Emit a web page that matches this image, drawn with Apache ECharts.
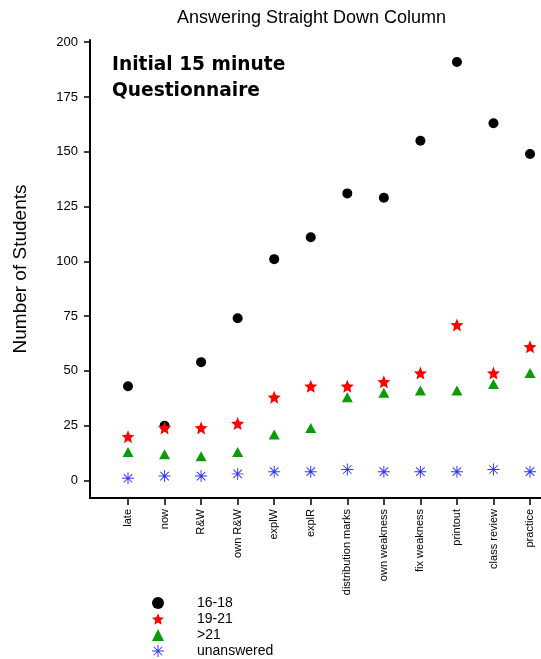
<!DOCTYPE html>
<html><head><meta charset="utf-8">
<script src="https://cdn.jsdelivr.net/npm/echarts@6/dist/echarts.min.js"></script>
<style>html,body{margin:0;padding:0;background:#fff}#c{width:541px;height:659px}</style>
</head><body><div id="c"></div>
<script>
const categories = ['late','now','R&W','own R&W','explW','explR','distribution marks','own weakness','fix weakness','printout','class review','practice'];
const seriesNames = ['16-18','19-21','>21','unanswered'];
const age16to18 = [43,25,54,74,101,111,131,129,155,191,163,149];
const age19to21 = [20,24,24,26,38,43,43,45,49,71,49,61];
const ageOver21 = [13,12,11,13,21,24,38,40,41,41,44,49];
const unanswered = [1,2,2,3,4,4,5,4,4,4,5,4];
const yTicks = [0,25,50,75,100,125,150,175,200];

const STAR = 'path://M10,0 L12.65,6.36 L19.51,6.91 L14.28,11.39 L15.88,18.09 L10,14.5 L4.12,18.09 L5.72,11.39 L0.49,6.91 L7.35,6.36 Z';
const ASTER = 'path://M9.2,0 L10.8,0 L10.8,20 L9.2,20 Z M0,9.2 L20,9.2 L20,10.8 L0,10.8 Z M2.36,3.5 L3.5,2.36 L17.64,16.5 L16.5,17.64 Z M16.5,2.36 L17.64,3.5 L3.5,17.64 L2.36,16.5 Z M8.6,8.6 L11.4,8.6 L11.4,11.4 L8.6,11.4 Z';

const toPts = arr => arr.map((v, i) => [i, v]);
const xIdx = categories.map((c, i) => i);

const chart = echarts.init(document.getElementById('c'), null, {renderer: 'canvas'});
chart.setOption({
  animation: false,
  backgroundColor: '#fff',
  textStyle: {fontFamily: 'Liberation Sans, Arial, sans-serif'},
  title: {
    text: 'Answering Straight Down Column',
    left: 177, top: 9, padding: 0,
    textStyle: {fontSize: 18, fontWeight: 'normal', color: '#000', fontFamily: 'Liberation Sans'}
  },
  graphic: [{
    type: 'text', left: 112, top: 52,
    style: {text: 'Initial 15 minute\nQuestionnaire', font: 'bold 18.6px "DejaVu Sans"', fill: '#000', lineHeight: 26}
  }],
  grid: {left: 90, top: 40, right: 0, bottom: 161, containLabel: false},
  xAxis: {
    type: 'value', min: -1.04, max: 11.3,
    splitLine: {show: false},
    axisLine: {show: true, onZero: false, lineStyle: {color: '#000', width: 2}},
    axisTick: {show: true, length: 7, lineStyle: {color: '#000', width: 1.5}, customValues: xIdx},
    axisLabel: {
      customValues: xIdx, rotate: 90, margin: 11, fontSize: 11, color: '#000',
      formatter: v => categories[Math.round(v)] || ''
    }
  },
  yAxis: {
    type: 'value', min: -8, max: 201,
    name: 'Number of Students', nameLocation: 'middle', nameGap: 60,
    nameTextStyle: {fontSize: 19, color: '#000'},
    splitLine: {show: false},
    axisLine: {show: true, onZero: false, lineStyle: {color: '#000', width: 2}},
    axisTick: {show: true, length: 6, lineStyle: {color: '#000', width: 1.5}, customValues: yTicks},
    axisLabel: {customValues: yTicks, margin: 12, fontSize: 13, color: '#000'}
  },
  legend: {
    orient: 'vertical', left: 152, top: 596, padding: 0, height: 63,
    itemWidth: 12, itemHeight: 12, itemGap: 2,
    textStyle: {fontSize: 14, lineHeight: 14, color: '#000', padding: [0, 0, 0, 28]},
    data: seriesNames
  },
  series: [
    {name: seriesNames[0], type: 'scatter', symbol: 'circle', symbolSize: 10, itemStyle: {color: '#000', opacity: 1}, data: toPts(age16to18)},
    {name: seriesNames[1], type: 'scatter', symbol: STAR, symbolSize: 13, itemStyle: {color: '#ff0000', opacity: 1}, data: toPts(age19to21)},
    {name: seriesNames[2], type: 'scatter', symbol: 'triangle', symbolSize: [11, 10], itemStyle: {color: '#0a9a0a', opacity: 1}, data: toPts(ageOver21)},
    {name: seriesNames[3], type: 'scatter', symbol: ASTER, symbolSize: 12, itemStyle: {color: '#3434ff', opacity: 1}, data: toPts(unanswered)}
  ]
});
</script></body></html>
